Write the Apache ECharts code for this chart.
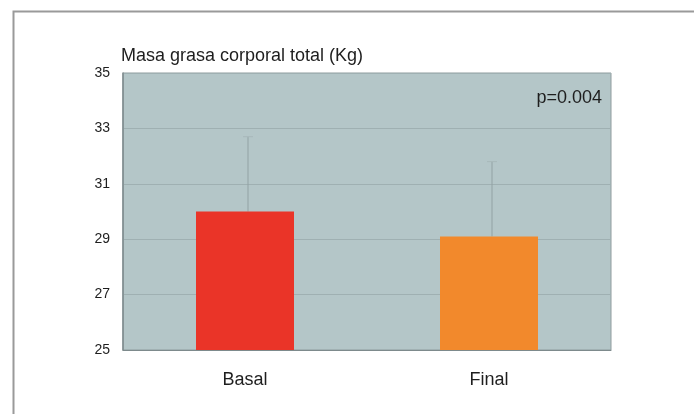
<!DOCTYPE html>
<html>
<head>
<meta charset="utf-8">
<script src="https://cdn.jsdelivr.net/npm/echarts@6/dist/echarts.min.js"></script>
<style>
  html, body { margin: 0; padding: 0; background: #ffffff; }
  #chart { width: 694px; height: 414px; }
</style>
</head>
<body>
<div id="chart"></div>
<script>
// Total body fat mass (kg), baseline vs. end of study
const categories = ['Basal', 'Final'];
const meanValues = [30.0, 29.1];
const upperErrors = [32.7, 31.8];
const barColors = ['#ea3428', '#f2892c'];
const yTicks = [25, 27, 29, 31, 33, 35];
const pValueText = 'p=0.004';
const titleText = 'Masa grasa corporal total (Kg)';

const chart = echarts.init(document.getElementById('chart'), null, { renderer: 'canvas' });

const font = 'Liberation Sans, Arial, sans-serif';

chart.setOption({
  animation: false,
  backgroundColor: '#ffffff',
  grid: {
    left: 123, right: 83, top: 73, bottom: 64,
    show: true,
    backgroundColor: '#b4c6c8',
    borderColor: '#8f9c9e',
    borderWidth: 1
  },
  title: {
    text: titleText,
    left: 121, top: 47,
    padding: 0,
    textStyle: { fontFamily: font, fontSize: 18, fontWeight: 'normal', color: '#1e1e1e' }
  },
  xAxis: {
    type: 'category',
    data: categories,
    axisLine: { show: true, lineStyle: { color: '#7d8a8c', width: 1 } },
    axisTick: { show: false },
    axisLabel: { fontFamily: font, fontSize: 18, color: '#1e1e1e', margin: 21 },
    splitLine: { show: false }
  },
  yAxis: {
    type: 'value',
    min: yTicks[0],
    max: yTicks[yTicks.length - 1],
    interval: 2,
    axisLine: { show: true, lineStyle: { color: '#7d8a8c', width: 1.5 } },
    axisTick: { show: false },
    axisLabel: { fontFamily: font, fontSize: 14, color: '#1e1e1e', margin: 13 },
    splitLine: { show: true, lineStyle: { color: '#9fb0b2', width: 1 } }
  },
  series: [
    {
      type: 'bar',
      barWidth: 98,
      data: meanValues.map((v, i) => ({ value: v, itemStyle: { color: barColors[i] } })),
      z: 3
    },
    {
      // upper error whiskers drawn from the mean to mean + SD
      type: 'custom',
      z: 2,
      data: categories.map((c, i) => [i, meanValues[i], upperErrors[i]]),
      renderItem: function (params, api) {
        const base = api.coord([api.value(0), api.value(1)]);
        const top = api.coord([api.value(0), api.value(2)]);
        const x = base[0] + 3;
        return {
          type: 'group',
          children: [
            {
              type: 'line',
              shape: { x1: x, y1: base[1], x2: x, y2: top[1] },
              style: { stroke: '#92a2a4', lineWidth: 1 }
            },
            {
              type: 'line',
              shape: { x1: x - 5, y1: top[1], x2: x + 5, y2: top[1] },
              style: { stroke: '#a7b8ba', lineWidth: 1 }
            }
          ]
        };
      }
    }
  ],
  graphic: [
    {
      type: 'text',
      right: 92, top: 89,
      style: { text: pValueText, font: '18px ' + font, fill: '#1e1e1e' }
    },
    {
      type: 'polyline',
      shape: { points: [[13.5, 414], [13.5, 11.5], [694, 11.5]] },
      style: { stroke: '#9a9a9a', lineWidth: 2, fill: null }
    }
  ]
});
</script>
</body>
</html>
